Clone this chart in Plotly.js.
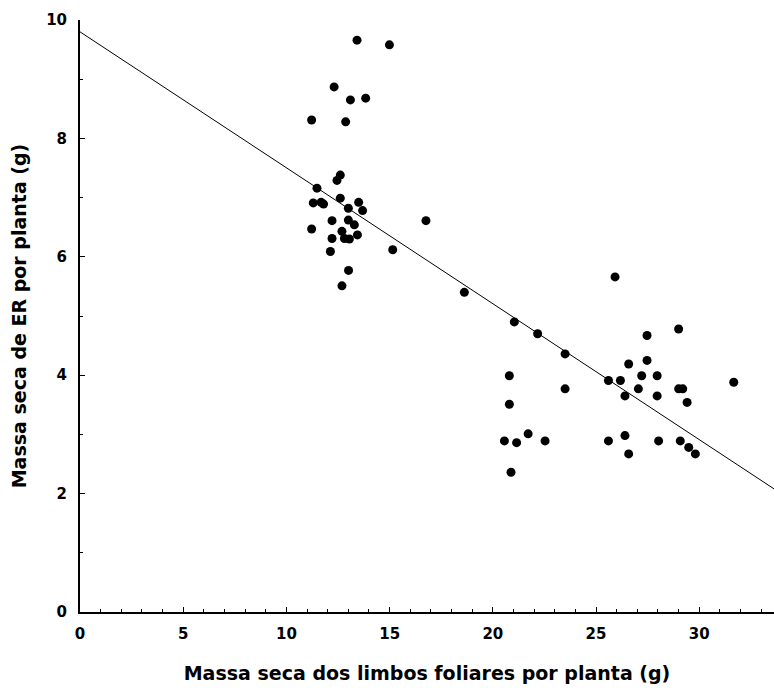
<!DOCTYPE html>
<html>
<head>
<meta charset="utf-8">
<script src="https://cdn.plot.ly/plotly-3.0.1.min.js"></script>
<style>html,body{margin:0;padding:0;background:#fff;}#chart{width:774px;height:688px;}</style>
</head>
<body>
<div id="chart"></div>
<script>
// Massa seca dos limbos foliares por planta (g)
const leafMass = [
  13.42, 14.99, 12.31, 13.10, 13.84, 11.22, 12.87, 12.61, 12.45, 11.48,
  12.61, 11.30, 11.68, 11.80, 13.50, 13.00, 13.69, 12.21, 13.00, 13.29,
  11.22, 12.69, 13.44, 12.21, 12.81, 13.05, 12.13, 15.15, 13.01, 12.69,
  16.76, 18.62,
  25.92, 21.04, 22.17, 27.47, 29.00, 23.50, 20.80, 26.58, 27.47, 27.21,
  27.96, 25.60, 26.18, 23.50, 27.05, 29.00, 29.20, 31.67, 26.40, 27.96,
  29.41, 20.80, 21.71, 20.56, 21.15, 22.53, 25.60, 26.40, 28.03, 29.08,
  29.49, 29.81, 26.58, 20.88
];
// Massa seca de ER por planta (g)
const erMass = [
  9.66, 9.58, 8.87, 8.65, 8.68, 8.31, 8.28, 7.38, 7.29, 7.16,
  6.99, 6.91, 6.92, 6.89, 6.92, 6.82, 6.78, 6.61, 6.62, 6.54,
  6.47, 6.43, 6.37, 6.31, 6.31, 6.30, 6.09, 6.12, 5.77, 5.51,
  6.61, 5.40,
  5.66, 4.90, 4.70, 4.67, 4.78, 4.36, 3.99, 4.19, 4.25, 3.99,
  3.99, 3.91, 3.91, 3.77, 3.77, 3.77, 3.77, 3.88, 3.65, 3.65,
  3.54, 3.51, 3.01, 2.89, 2.86, 2.89, 2.89, 2.98, 2.89, 2.89,
  2.78, 2.67, 2.67, 2.36
];
// Fitted regression line endpoints
const fitX = [0, 33.62];
const fitY = [9.80, 2.08];

const xTickVals = [0, 5, 10, 15, 20, 25, 30];
const yTickVals = [0, 2, 4, 6, 8, 10];

const tickFont = {family: 'DejaVu Sans, Verdana, sans-serif', size: 15, color: '#000', weight: 'bold'};
const titleFont = {family: 'DejaVu Sans, Verdana, sans-serif', size: 19, color: '#000', weight: 'bold'};

const traces = [
  {
    x: fitX, y: fitY, type: 'scatter', mode: 'lines',
    line: {color: '#000', width: 1}, hoverinfo: 'skip', showlegend: false
  },
  {
    x: leafMass, y: erMass, type: 'scatter', mode: 'markers',
    marker: {color: '#000', size: 9, line: {width: 0}}, showlegend: false
  }
];

const layout = {
  width: 774, height: 688,
  margin: {l: 80, r: 0, t: 20, b: 76},
  paper_bgcolor: '#fff', plot_bgcolor: '#fff',
  showlegend: false,
  xaxis: {
    range: [0, 33.62], tickvals: xTickVals, ticktext: xTickVals.map(String),
    ticks: 'inside', ticklen: 5, tickwidth: 1, tickcolor: '#000',
    minor: {dtick: 1, tick0: 0, ticks: 'inside', ticklen: 3, tickwidth: 1, tickcolor: '#000'},
    showline: true, linecolor: '#000', linewidth: 2,
    showgrid: false, zeroline: false,
    tickfont: tickFont, ticklabelstandoff: 7,
    title: {text: 'Massa seca dos limbos foliares por planta (g)', font: titleFont, standoff: 25}
  },
  yaxis: {
    range: [0, 10], tickvals: yTickVals, ticktext: yTickVals.map(String),
    ticks: 'inside', ticklen: 5, tickwidth: 1, tickcolor: '#000',
    minor: {dtick: 1, tick0: 0, ticks: 'inside', ticklen: 3, tickwidth: 1, tickcolor: '#000'},
    showline: true, linecolor: '#000', linewidth: 2,
    showgrid: false, zeroline: false,
    tickfont: tickFont, ticklabelstandoff: 8,
    title: {text: 'Massa seca de ER por planta (g)', font: titleFont, standoff: 14}
  }
};

Plotly.newPlot('chart', traces, layout, {displayModeBar: false, staticPlot: true});
</script>
</body>
</html>
